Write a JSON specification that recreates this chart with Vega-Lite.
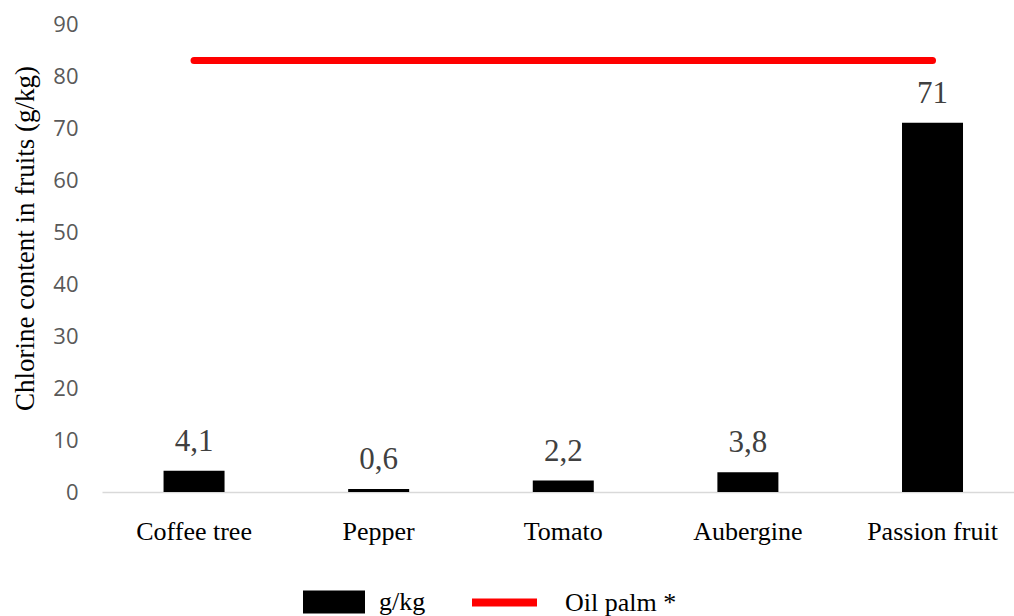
{
  "$schema": "https://vega.github.io/schema/vega-lite/v6.json",
  "width": 912,
  "height": 468,
  "autosize": {"type": "none"},
  "padding": {"left": 102, "top": 24, "right": 0, "bottom": 124},
  "background": "white",
  "config": {"view": {"stroke": null}, "font": "Liberation Serif"},
  "data": {
    "values": [
      {"fruit": "Coffee tree", "chlorine": 4.1, "label": "4,1", "oil_palm": 83},
      {"fruit": "Pepper", "chlorine": 0.6, "label": "0,6", "oil_palm": 83},
      {"fruit": "Tomato", "chlorine": 2.2, "label": "2,2", "oil_palm": 83},
      {"fruit": "Aubergine", "chlorine": 3.8, "label": "3,8", "oil_palm": 83},
      {"fruit": "Passion fruit", "chlorine": 71, "label": "71", "oil_palm": 83}
    ]
  },
  "encoding": {
    "x": {
      "field": "fruit",
      "type": "nominal",
      "sort": null,
      "scale": {"paddingInner": 0.5, "paddingOuter": 0.22, "align": 0.565},
      "axis": {
        "title": null,
        "labelAngle": 0,
        "ticks": false,
        "domainColor": "#d9d9d9",
        "domainWidth": 1.5,
        "labelFont": "Liberation Serif",
        "labelFontSize": 26,
        "labelColor": "#000000",
        "labelPadding": 26
      }
    }
  },
  "layer": [
    {
      "mark": {"type": "bar", "width": 61},
      "encoding": {
        "y": {
          "field": "chlorine",
          "type": "quantitative",
          "scale": {"domain": [0, 90]},
          "title": "Chlorine content in fruits (g/kg)",
          "axis": {
            "values": [0, 10, 20, 30, 40, 50, 60, 70, 80, 90],
            "grid": false,
            "domain": false,
            "ticks": false,
            "labelFont": "Open Sans",
            "labelFontSize": 22,
            "labelColor": "#595959",
            "labelPadding": 24,
            "titleFont": "Liberation Serif",
            "titleFontSize": 27,
            "titleFontWeight": "normal",
            "titleColor": "#000000",
            "titleAngle": -90,
            "titleX": -69,
            "titleY": 214,
            "titleBaseline": "alphabetic"
          }
        },
        "fill": {
          "datum": "g/kg",
          "scale": {"range": ["#000000"]},
          "legend": {
            "orient": "none",
            "legendX": 201,
            "legendY": 547,
            "title": null,
            "padding": 0,
            "symbolType": "M-1,-0.37H1V0.37H-1Z",
            "symbolSize": 3844,
            "symbolStrokeWidth": 0,
            "labelFont": "Liberation Serif",
            "labelFontSize": 26,
            "labelColor": "#000000",
            "labelOffset": 14
          }
        }
      }
    },
    {
      "mark": {
        "type": "text",
        "font": "Liberation Serif",
        "fontSize": 31,
        "color": "#404040",
        "baseline": "alphabetic",
        "dy": -20
      },
      "encoding": {
        "y": {"field": "chlorine", "type": "quantitative", "title": "Chlorine content in fruits (g/kg)"},
        "text": {"field": "label"}
      }
    },
    {
      "mark": {"type": "line", "strokeWidth": 7, "strokeCap": "round"},
      "encoding": {
        "y": {"field": "oil_palm", "type": "quantitative", "title": "Chlorine content in fruits (g/kg)"},
        "stroke": {
          "datum": "Oil palm *",
          "scale": {"range": ["#ff0000"]},
          "legend": {
            "orient": "none",
            "legendX": 366,
            "legendY": 542,
            "title": null,
            "padding": 0,
            "symbolType": "stroke",
            "symbolSize": 4225,
            "symbolStrokeWidth": 8,
            "labelFont": "Liberation Serif",
            "labelFontSize": 26,
            "labelColor": "#000000",
            "labelOffset": 24
          }
        }
      }
    }
  ]
}
